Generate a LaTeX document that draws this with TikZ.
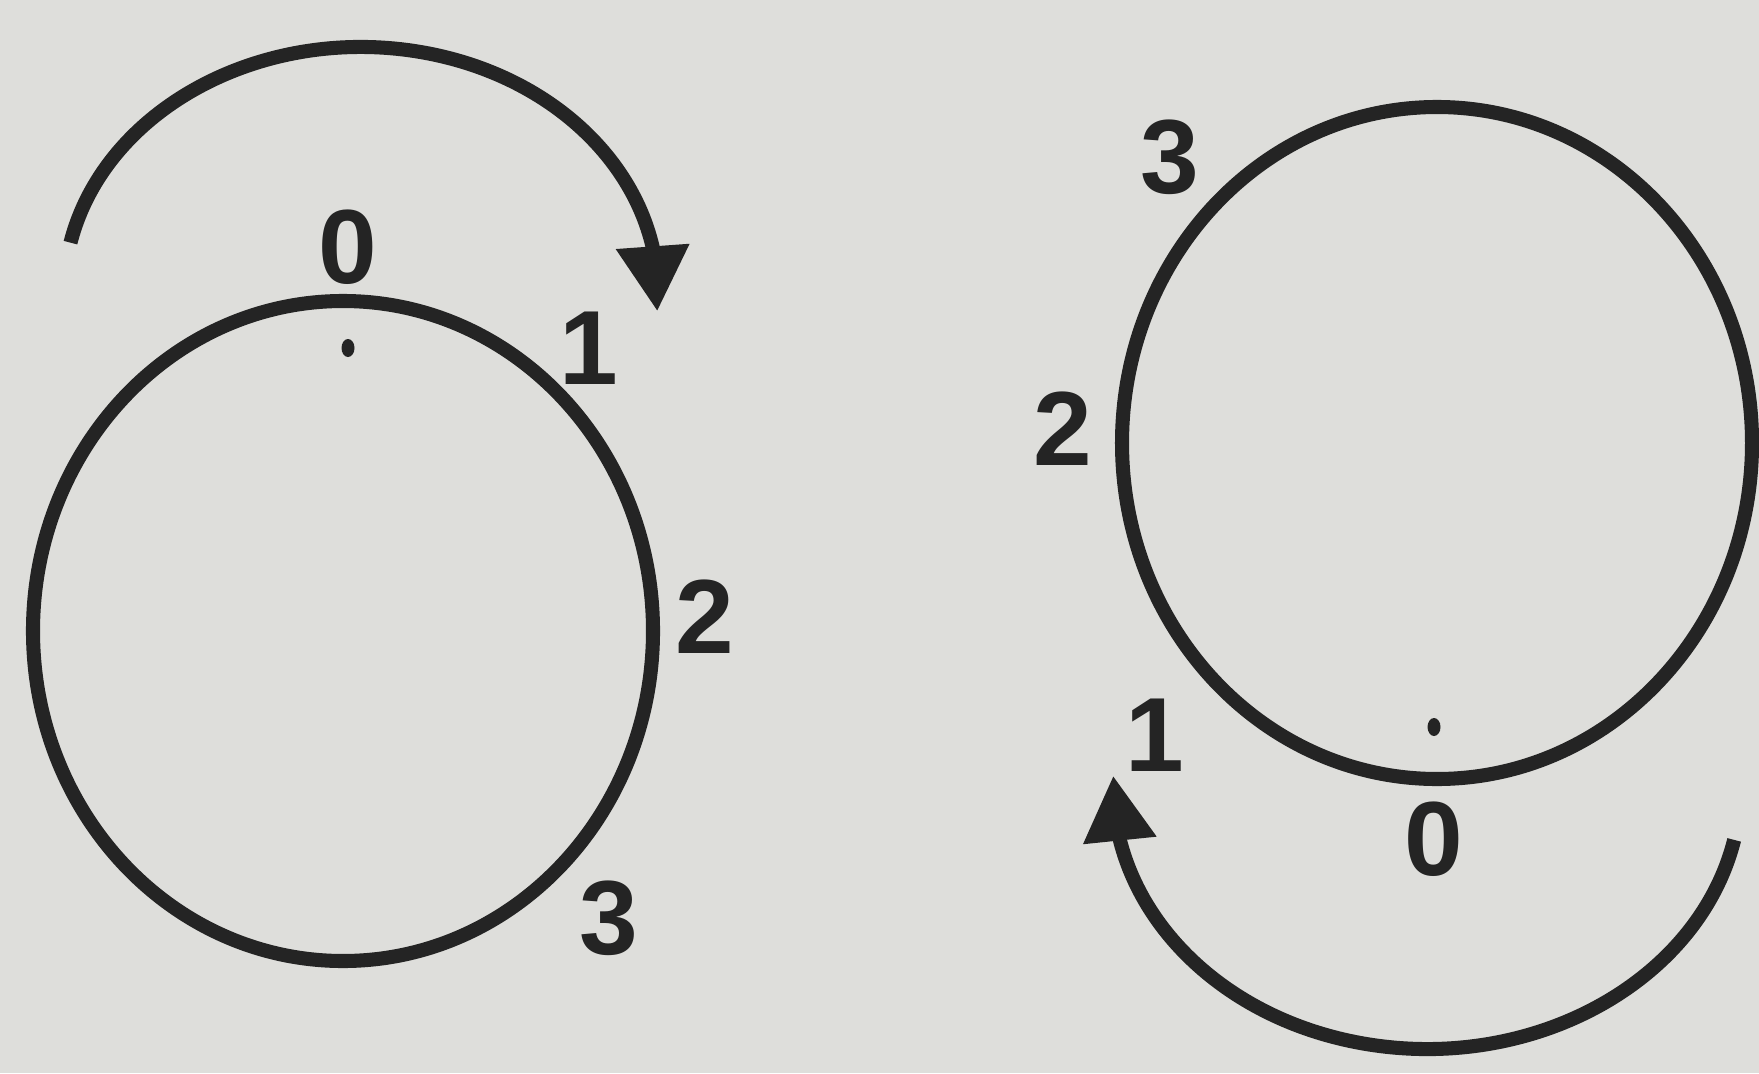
\documentclass[tikz,border=0pt]{standalone}
\usepackage{fontspec}
\setmainfont{Liberation Sans}
\usetikzlibrary{arrows.meta,bending}

\definecolor{carta}{RGB}{222,222,219}
\definecolor{inchiostro}{RGB}{36,36,36}

\tikzset{
    ruota/.style={draw=inchiostro, line width=4pt},
    verso/.style={draw=inchiostro, line width=4pt, -{Triangle[length=6.5mm, width=7mm, flex]}},
    cifra/.style={text=inchiostro, inner sep=0pt, font=\bfseries\fontsize{30}{34}\selectfont},
    punto/.style={fill=inchiostro}
}

\begin{document}
\begin{tikzpicture}

    % Sfondo e cornice fissa
    \fill[carta] (0,0) rectangle (17.59,10.73);
    \useasboundingbox (0,0) rectangle (17.59,10.73);

    % Centri delle due ruote
    \coordinate (CS) at (3.43,4.42);
    \coordinate (CD) at (14.37,6.30);

    % Ruota di sinistra e ruota di destra
    \draw[ruota] (CS) ellipse [x radius=3.10, y radius=3.30];
    \draw[ruota] (CD) ellipse [x radius=3.15, y radius=3.36];

    % Punto di riferimento su ciascuna ruota
    \fill[punto] (3.48,7.25) ellipse [x radius=0.065, y radius=0.09];
    \fill[punto] (14.34,3.46) ellipse [x radius=0.065, y radius=0.09];

    % Frecce del verso di rotazione
    \draw[verso] (3.61,7.79) ++(168:2.97 and 2.47) arc [start angle=168, end angle=-4, x radius=2.97, y radius=2.47];
    \draw[verso] (14.27,2.88) ++(-12:3.14 and 2.64) arc [start angle=-12, end angle=-182, x radius=3.14, y radius=2.64];

    % Posizioni numerate, ruota di sinistra
    \node[cifra] (s0) at (3.48,8.26) {0};
    \node[cifra] (s1) at (5.89,7.25) {1};
    \node[cifra] (s2) at (7.05,4.56) {2};
    \node[cifra] (s3) at (6.09,1.55) {3};

    % Posizioni numerate, ruota di destra
    \node[cifra] (d0) at (14.34,2.34) {0};
    \node[cifra] (d1) at (11.55,3.38) {1};
    \node[cifra] (d2) at (10.63,6.44) {2};
    \node[cifra] (d3) at (11.70,9.16) {3};

\end{tikzpicture}
\end{document}
